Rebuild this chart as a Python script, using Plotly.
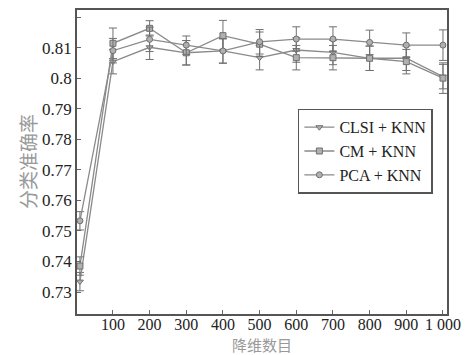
import plotly.graph_objects as go

dims = [10, 100, 200, 300, 400, 500, 600, 700, 800, 900, 1000]
clsi = [0.7334, 0.8054, 0.8101, 0.8083, 0.8089, 0.8067, 0.8092, 0.8084, 0.8065, 0.8065, 0.8005]
cm = [0.7385, 0.8114, 0.8163, 0.8083, 0.8139, 0.8111, 0.8067, 0.8067, 0.8065, 0.8054, 0.8000]
pca = [0.7533, 0.8090, 0.8127, 0.8108, 0.8089, 0.8119, 0.8128, 0.8128, 0.8117, 0.8108, 0.8108]
clsi_err = [0.003, 0.004, 0.004, 0.004, 0.004, 0.004, 0.004, 0.004, 0.004, 0.004, 0.004]
cm_err = [0.003, 0.005, 0.0025, 0.004, 0.005, 0.004, 0.004, 0.004, 0.004, 0.004, 0.005]
pca_err = [0.003, 0.004, 0.004, 0.003, 0.004, 0.004, 0.004, 0.004, 0.004, 0.004, 0.005]
series_names = ["CLSI + KNN", "CM + KNN", "PCA + KNN"]
symbols = ["triangle-down", "square", "circle"]
xtick_vals = [100, 200, 300, 400, 500, 600, 700, 800, 900, 1000]
xtick_text = ["100", "200", "300", "400", "500", "600", "700", "800", "900", "1 000"]
ytick_vals = [0.73, 0.74, 0.75, 0.76, 0.77, 0.78, 0.79, 0.80, 0.81, 0.82]
ytick_text = ["0.73", "0.74", "0.75", "0.76", "0.77", "0.78", "0.79", "0.8", "0.81", "0.82"]
x_title = "降维数目"
y_title = "分类准确率"

fig = go.Figure()
for name, ys, errs, sym in zip(series_names, [clsi, cm, pca], [clsi_err, cm_err, pca_err], symbols):
    fig.add_trace(go.Scatter(
        x=dims, y=ys, name=name, mode="lines+markers",
        line=dict(color="#8a8a8a", width=1.3),
        marker=dict(symbol=sym, size=6, color="#b0b0b0", line=dict(color="#707070", width=1)),
        error_y=dict(type="data", array=errs, visible=True, color="#707070", thickness=1, width=4),
    ))

serif = "Liberation Serif, Times New Roman, serif"
cjk = "Noto Sans CJK SC"
# page body has an 8px default margin; the figure is sized to fill the rest of the window
fig.update_layout(
    width=465, height=347,
    margin=dict(l=69, r=26, t=2, b=41, autoexpand=False),
    paper_bgcolor="white", plot_bgcolor="white",
    font=dict(family=serif, size=17, color="#222"),
    showlegend=True,
    legend=dict(
        x=0.597, y=0.675, xanchor="left", yanchor="top",
        bgcolor="white", bordercolor="#555", borderwidth=1.5,
        font=dict(family=serif, size=16, color="#222"),
        tracegroupgap=0, itemwidth=30,
    ),
    xaxis=dict(
        range=[2, 1011], tickvals=xtick_vals, ticktext=xtick_text,
        ticks="inside", ticklen=4, tickcolor="#666", automargin=False,
        ticklabelstandoff=-5, tickfont=dict(size=16),
        showline=True, linecolor="#555", linewidth=1.5, mirror=True,
        showgrid=False, zeroline=False,
    ),
    yaxis=dict(
        range=[0.7228, 0.8223], tickvals=ytick_vals, ticktext=ytick_text,
        ticks="inside", ticklen=4, tickcolor="#666", automargin=False,
        showline=True, linecolor="#555", linewidth=1.5, mirror=True,
        showgrid=False, zeroline=False,
    ),
    annotations=[
        dict(text=x_title, xref="paper", yref="paper", x=0.5, y=0, yshift=-30,
             xanchor="center", yanchor="middle", showarrow=False,
             font=dict(family=cjk, size=15, color="#999")),
        dict(text=y_title, xref="paper", yref="paper", x=0, y=0.5, xshift=-50,
             xanchor="center", yanchor="middle", showarrow=False, textangle=-90,
             font=dict(family=cjk, size=19, color="#999")),
    ],
)
fig.write_html("out.html")
